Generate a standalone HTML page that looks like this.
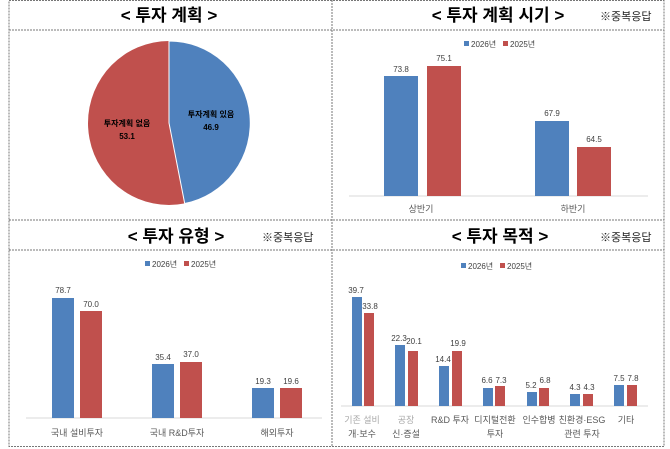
<!DOCTYPE html>
<html><head><meta charset="utf-8"><style>
body{margin:0;background:#fff}
svg{display:block}
text{font-family:"Liberation Sans","Noto Sans CJK KR",sans-serif}
.t{font-size:17px;font-weight:bold;fill:#000}
.n{font-size:11px;fill:#222}
.v{font-size:8px;fill:#404040}
.c{font-size:9px;fill:#595959}
</style></head><body>
<svg width="670" height="449" viewBox="0 0 670 449">
<g stroke="#777" stroke-width="1" stroke-dasharray="2,1" fill="none">
<rect x="9" y="0.5" width="655" height="446"/>
<line x1="332" y1="0" x2="332" y2="447"/>
<line x1="9" y1="30" x2="664" y2="30"/>
<line x1="9" y1="220" x2="664" y2="220"/>
<line x1="9" y1="250" x2="664" y2="250"/>
</g>
<text class="t" x="169" y="21" text-anchor="middle">&lt; 투자  계획 &gt;</text>
<text class="t" x="498" y="21" text-anchor="middle">&lt; 투자  계획  시기 &gt;</text>
<text class="n" x="600" y="20">※중복응답</text>
<text class="t" x="176" y="242" text-anchor="middle">&lt; 투자  유형 &gt;</text>
<text class="n" x="262" y="241">※중복응답</text>
<text class="t" x="500" y="242" text-anchor="middle">&lt; 투자  목적 &gt;</text>
<text class="n" x="600" y="241">※중복응답</text>

<ellipse cx="169" cy="123" rx="81" ry="82" fill="#c0504d"/>
<path d="M169,123 L169,41 A81,82 0 0,1 184.7,203.5 Z" fill="#4f81bd" stroke="#fff" stroke-width="1"/>
<text x="127" y="126" text-anchor="middle" style="font-size:8px;font-weight:bold">투자계획 없음</text>
<text x="127" y="139" text-anchor="middle" style="font-size:8px;font-weight:bold">53.1</text>
<text x="211" y="117" text-anchor="middle" style="font-size:8px;font-weight:bold">투자계획 있음</text>
<text x="211" y="130" text-anchor="middle" style="font-size:8px;font-weight:bold">46.9</text>

<rect x="464" y="41" width="5" height="5" fill="#4f81bd"/><text class="v" x="471" y="47">2026년</text>
<rect x="503" y="41" width="5" height="5" fill="#c0504d"/><text class="v" x="510" y="47">2025년</text>
<line x1="349" y1="196" x2="648" y2="196" stroke="#d9d9d9"/>
<rect x="384" y="76" width="34" height="120" fill="#4f81bd"/>
<rect x="427" y="66" width="34" height="130" fill="#c0504d"/>
<rect x="535" y="121" width="34" height="75" fill="#4f81bd"/>
<rect x="577" y="147" width="34" height="49" fill="#c0504d"/>
<text class="v" x="401" y="72" text-anchor="middle">73.8</text>
<text class="v" x="444" y="61" text-anchor="middle">75.1</text>
<text class="v" x="552" y="116" text-anchor="middle">67.9</text>
<text class="v" x="594" y="142" text-anchor="middle">64.5</text>
<text class="c" x="421" y="212" text-anchor="middle">상반기</text>
<text class="c" x="573" y="212" text-anchor="middle">하반기</text>

<rect x="145" y="261" width="5" height="5" fill="#4f81bd"/><text class="v" x="152" y="267">2026년</text>
<rect x="184" y="261" width="5" height="5" fill="#c0504d"/><text class="v" x="191" y="267">2025년</text>
<line x1="26" y1="418" x2="322" y2="418" stroke="#d9d9d9"/>
<rect x="52" y="298" width="22" height="120" fill="#4f81bd"/>
<rect x="80" y="311" width="22" height="107" fill="#c0504d"/>
<rect x="152" y="364" width="22" height="54" fill="#4f81bd"/>
<rect x="180" y="362" width="22" height="56" fill="#c0504d"/>
<rect x="252" y="388" width="22" height="30" fill="#4f81bd"/>
<rect x="280" y="388" width="22" height="30" fill="#c0504d"/>
<text class="v" x="63" y="293" text-anchor="middle">78.7</text>
<text class="v" x="91" y="307" text-anchor="middle">70.0</text>
<text class="v" x="163" y="360" text-anchor="middle">35.4</text>
<text class="v" x="191" y="357" text-anchor="middle">37.0</text>
<text class="v" x="263" y="384" text-anchor="middle">19.3</text>
<text class="v" x="291" y="384" text-anchor="middle">19.6</text>
<text class="c" x="77" y="436" text-anchor="middle">국내 설비투자</text>
<text class="c" x="177" y="436" text-anchor="middle">국내 R&amp;D투자</text>
<text class="c" x="277" y="436" text-anchor="middle">해외투자</text>

<rect x="461" y="263" width="5" height="5" fill="#4f81bd"/><text class="v" x="468" y="269">2026년</text>
<rect x="500" y="263" width="5" height="5" fill="#c0504d"/><text class="v" x="507" y="269">2025년</text>
<line x1="341" y1="406" x2="648" y2="406" stroke="#d9d9d9"/>
<g fill="#4f81bd">
<rect x="352" y="297" width="10" height="109"/>
<rect x="395" y="345" width="10" height="61"/>
<rect x="439" y="366" width="10" height="40"/>
<rect x="483" y="388" width="10" height="18"/>
<rect x="527" y="392" width="10" height="14"/>
<rect x="570" y="394" width="10" height="12"/>
<rect x="614" y="385" width="10" height="21"/>
</g>
<g fill="#c0504d">
<rect x="364" y="313" width="10" height="93"/>
<rect x="408" y="351" width="10" height="55"/>
<rect x="452" y="351" width="10" height="55"/>
<rect x="495" y="386" width="10" height="20"/>
<rect x="539" y="388" width="10" height="18"/>
<rect x="583" y="394" width="10" height="12"/>
<rect x="627" y="385" width="10" height="21"/>
</g>
<g class="v" text-anchor="middle">
<text x="356" y="293">39.7</text><text x="370" y="309">33.8</text>
<text x="399" y="341">22.3</text><text x="414" y="344">20.1</text>
<text x="443" y="362">14.4</text><text x="458" y="346">19.9</text>
<text x="487" y="383">6.6</text><text x="501" y="383">7.3</text>
<text x="531" y="388">5.2</text><text x="545" y="383">6.8</text>
<text x="575" y="390">4.3</text><text x="589" y="390">4.3</text>
<text x="619" y="381">7.5</text><text x="633" y="381">7.8</text>
</g>
<g class="c" text-anchor="middle">
<text x="362" y="423" fill="#aaa">기존 설비</text><text x="362" y="437">개·보수</text>
<text x="406" y="423" fill="#aaa">공장</text><text x="406" y="437">신·증설</text>
<text x="450" y="423">R&amp;D 투자</text>
<text x="495" y="423">디지털전환</text><text x="495" y="437">투자</text>
<text x="539" y="423">인수합병</text>
<text x="582" y="423">친환경·ESG</text><text x="582" y="437">관련 투자</text>
<text x="626" y="423">기타</text>
</g>
</svg>
</body></html>
